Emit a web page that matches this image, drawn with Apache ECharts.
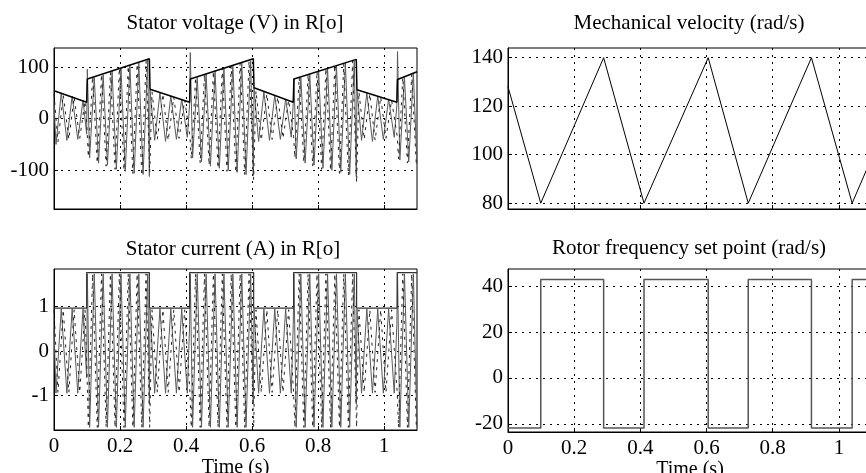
<!DOCTYPE html>
<html>
<head>
<meta charset="utf-8">
<script src="https://cdn.jsdelivr.net/npm/echarts@6/dist/echarts.min.js"></script>
<style>
html, body { margin: 0; padding: 0; background: #fff; }
#chart { width: 866px; height: 473px; }
</style>
</head>
<body>
<div id="chart"></div>
<script>
// tick values
const timeTicks = [0, 0.2, 0.4, 0.6, 0.8, 1];
const voltTicks = [-100, 0, 100];
const currTicks = [-1, 0, 1];
const veloTicks = [80, 100, 120, 140];
const rotorTicks = [-20, 0, 20, 40];

// stator phase a (solid) - zigzag vertices
const tA = [
    0.000, 0.006, 0.022, 0.039, 0.055, 0.072, 0.088, 0.099,
    0.101, 0.108, 0.122, 0.135, 0.149, 0.162, 0.176, 0.189, 0.203, 0.216, 0.230, 0.243, 0.257, 0.270, 0.284, 0.289,
    0.291, 0.305, 0.321, 0.338, 0.354, 0.371, 0.387, 0.404, 0.411,
    0.413, 0.420, 0.434, 0.447, 0.461, 0.474, 0.488, 0.501, 0.515, 0.528, 0.542, 0.555, 0.569, 0.582, 0.596, 0.604,
    0.606, 0.620, 0.636, 0.653, 0.669, 0.686, 0.702, 0.719, 0.725,
    0.727, 0.734, 0.748, 0.761, 0.775, 0.788, 0.802, 0.815, 0.829, 0.842, 0.856, 0.869, 0.883, 0.896, 0.910, 0.916,
    0.918, 0.932, 0.948, 0.965, 0.981, 0.998, 1.014, 1.031, 1.039,
    1.041, 1.048, 1.062, 1.075, 1.089, 1.100
];
const voltA = [
    30, -50, 50, -42, 44, -40, 36, -30,
    96, -76, 80, -86, 85, -90, 92, -98, 98, -102, 104, -106, 108, -108, 114, -112,
    56, -42, 50, -44, 44, -40, 38, -36, 28,
    128, -76, 80, -84, 86, -92, 92, -96, 98, -100, 104, -104, 108, -108, 112, -110,
    60, -44, 52, -42, 46, -40, 38, -36, 30,
    78, -78, 80, -86, 86, -90, 92, -96, 98, -100, 102, -104, 108, -108, 112, -112,
    56, -42, 50, -44, 44, -40, 38, -36, 26,
    130, -80, 80, -84, 88, -88
];
const currA = [
    0.5, -0.95, 0.95, -0.95, 0.95, -0.95, 0.95, -0.6,
    1.74, -1.72, 1.74, -1.72, 1.74, -1.72, 1.74, -1.72, 1.74, -1.72, 1.74, -1.72, 1.74, -1.72, 1.74, -1.2,
    0.95, -0.95, 0.95, -0.95, 0.95, -0.95, 0.95, -0.95, 0.6,
    1.74, -1.72, 1.74, -1.72, 1.74, -1.72, 1.74, -1.72, 1.74, -1.72, 1.74, -1.72, 1.74, -1.72, 1.74, -1.2,
    0.95, -0.95, 0.95, -0.95, 0.95, -0.95, 0.95, -0.95, 0.6,
    1.74, -1.72, 1.74, -1.72, 1.74, -1.72, 1.74, -1.72, 1.74, -1.72, 1.74, -1.72, 1.74, -1.72, 1.74, -1.2,
    0.95, -0.95, 0.95, -0.95, 0.95, -0.95, 0.95, -0.95, 0.6,
    1.74, -1.72, 1.74, -1.72, 1.74, -1.72
];

// stator phase b (dashed)
const tB = [
    0.000, 0.012, 0.028, 0.045, 0.061, 0.078, 0.094, 0.100,
    0.104, 0.117, 0.131, 0.144, 0.158, 0.171, 0.185, 0.198, 0.212, 0.225, 0.239, 0.252, 0.266, 0.279, 0.290,
    0.297, 0.313, 0.330, 0.346, 0.363, 0.379, 0.396, 0.412,
    0.416, 0.429, 0.443, 0.456, 0.470, 0.483, 0.497, 0.510, 0.524, 0.537, 0.551, 0.564, 0.578, 0.591, 0.605,
    0.612, 0.628, 0.645, 0.661, 0.678, 0.694, 0.711, 0.726,
    0.730, 0.743, 0.757, 0.770, 0.784, 0.797, 0.811, 0.824, 0.838, 0.851, 0.865, 0.878, 0.892, 0.905, 0.917,
    0.924, 0.940, 0.957, 0.973, 0.990, 1.006, 1.023, 1.040,
    1.044, 1.057, 1.071, 1.084, 1.098
];
const voltB = [
    48, -45, 46, -40, 42, -38, 34, -20,
    -74, 82, -86, 86, -92, 90, -98, 98, -100, 102, -106, 106, -110, 112, -104,
    52, -40, 48, -42, 42, -38, 36, -34,
    -78, 80, -86, 86, -90, 92, -96, 98, -102, 102, -104, 108, -108, 112, -118,
    54, -42, 48, -40, 42, -38, 36, -34,
    -76, 80, -84, 86, -92, 92, -98, 98, -100, 104, -106, 106, -110, 112, -124,
    52, -40, 48, -42, 42, -38, 36, -34,
    -78, 80, -86, 86, -90
];
const currB = [
    0.93, -0.93, 0.93, -0.93, 0.93, -0.93, 0.93, -0.5,
    -1.72, 1.74, -1.72, 1.74, -1.72, 1.74, -1.72, 1.74, -1.72, 1.74, -1.72, 1.74, -1.72, 1.74, -1.72,
    0.93, -0.93, 0.93, -0.93, 0.93, -0.93, 0.93, -0.93,
    -1.72, 1.74, -1.72, 1.74, -1.72, 1.74, -1.72, 1.74, -1.72, 1.74, -1.72, 1.74, -1.72, 1.74, -1.72,
    0.93, -0.93, 0.93, -0.93, 0.93, -0.93, 0.93, -0.93,
    -1.72, 1.74, -1.72, 1.74, -1.72, 1.74, -1.72, 1.74, -1.72, 1.74, -1.72, 1.74, -1.72, 1.74, -1.72,
    0.93, -0.93, 0.93, -0.93, 0.93, -0.93, 0.93, -0.93,
    -1.72, 1.74, -1.72, 1.74, -1.72
];

// voltage amplitude envelope
const tEnvV = [0, 0.099, 0.101, 0.289, 0.291, 0.411, 0.413, 0.604, 0.606, 0.725, 0.727, 0.916, 0.918, 1.039, 1.041, 1.100];
const voltEnv = [54, 32, 77, 116, 57, 32, 77, 116, 60, 32, 77, 115, 56, 32, 76, 91];

// switching instants (rotor set point / current limit steps)
const switchTimes = [0, 0.099, 0.289, 0.411, 0.605, 0.726, 0.917, 1.040, 1.100];
const currEnv = [0.97, 1.77, 0.97, 1.77, 0.97, 1.77, 0.97, 1.77, 1.77];
const rotorSet = [-21.8, 43, -21.8, 43, -21.8, 43, -21.8, 43, 43];

// mechanical velocity vertices
const tVelo = [0, 0.099, 0.289, 0.411, 0.605, 0.726, 0.917, 1.040, 1.100];
const velo = [128, 80, 140, 80, 140, 80, 140, 80, 99];

const zip = (xs, ys) => xs.map((x, i) => [x, ys[i]]);

const FONT = 'Liberation Serif';
const dotted = { color: '#000', type: [2, 5], width: 1 };

function xAx(grid, withLabel) {
    return {
        type: 'value', gridIndex: grid, min: 0, max: 1.1,
        name: withLabel ? 'Time (s)' : '',
        nameLocation: 'middle', nameGap: 27,
        nameTextStyle: { fontFamily: FONT, fontSize: 20, color: '#000' },
        axisLine: { show: true, onZero: false, lineStyle: { color: '#000' } },
        axisTick: { show: true, inside: true, length: 4, customValues: timeTicks, lineStyle: { color: '#000' } },
        axisLabel: { show: withLabel, customValues: timeTicks, margin: 6, fontFamily: FONT, fontSize: 21, color: '#000' },
        splitLine: { show: true, lineStyle: dotted }
    };
}
function yAx(grid, min, max, ticks) {
    return {
        type: 'value', gridIndex: grid, min: min, max: max,
        axisLine: { show: true, onZero: false, lineStyle: { color: '#000' } },
        axisTick: { show: true, inside: true, length: 4, customValues: ticks, lineStyle: { color: '#000' } },
        axisLabel: { customValues: ticks, margin: 5, fontFamily: FONT, fontSize: 21, color: '#000' },
        splitLine: { show: true, lineStyle: dotted }
    };
}
function line(x, y, data, color, width, type, step) {
    return {
        type: 'line', xAxisIndex: x, yAxisIndex: y, data: data,
        showSymbol: false, step: step || false, silent: true,
        lineStyle: { color: color, width: width, type: type || 'solid' }
    };
}
function title(text, cx, cy) {
    return {
        type: 'text', x: cx, y: cy,
        style: { text: text, fontFamily: FONT, fontSize: 21, fill: '#000', align: 'center', verticalAlign: 'middle' }
    };
}
function box(left, top, width, height) {
    return {
        left: left, top: top, width: width, height: height,
        show: true, borderColor: '#000', borderWidth: 1,
        containLabel: false, outerBoundsMode: 'none'
    };
}

const chart = echarts.init(document.getElementById('chart'));
chart.setOption({
    animation: false,
    backgroundColor: '#fff',
    grid: [
        box(54, 48, 363, 161),
        box(508, 48, 364, 161),
        box(54, 269, 363, 161),
        box(508, 269, 364, 163)
    ],
    xAxis: [xAx(0, false), xAx(1, false), xAx(2, true), xAx(3, true)],
    yAxis: [
        yAx(0, -175, 137, voltTicks),
        yAx(1, 77.6, 144, veloTicks),
        yAx(2, -1.78, 1.85, currTicks),
        yAx(3, -23.6, 47.6, rotorTicks)
    ],
    graphic: [
        title('Stator voltage (V) in R[o]', 235, 23),
        title('Mechanical velocity (rad/s)', 689, 23),
        title('Stator current (A) in R[o]', 233, 249),
        title('Rotor frequency set point (rad/s)', 689, 248)
    ],
    series: [
        line(0, 0, zip(tA, voltA), '#5a5a5a', 1),
        line(0, 0, zip(tB, voltB), '#222', 1, [3, 5]),
        line(0, 0, zip(tEnvV, voltEnv), '#000', 1.5),
        line(1, 1, zip(tVelo, velo), '#000', 1),
        line(2, 2, zip(tA, currA), '#5a5a5a', 1),
        line(2, 2, zip(tB, currB), '#222', 1, [3, 5]),
        line(2, 2, zip(switchTimes, currEnv), '#333', 1.2, 'solid', 'end'),
        line(3, 3, zip(switchTimes, rotorSet), '#555', 1.5, 'solid', 'end')
    ]
});
</script>
</body>
</html>
